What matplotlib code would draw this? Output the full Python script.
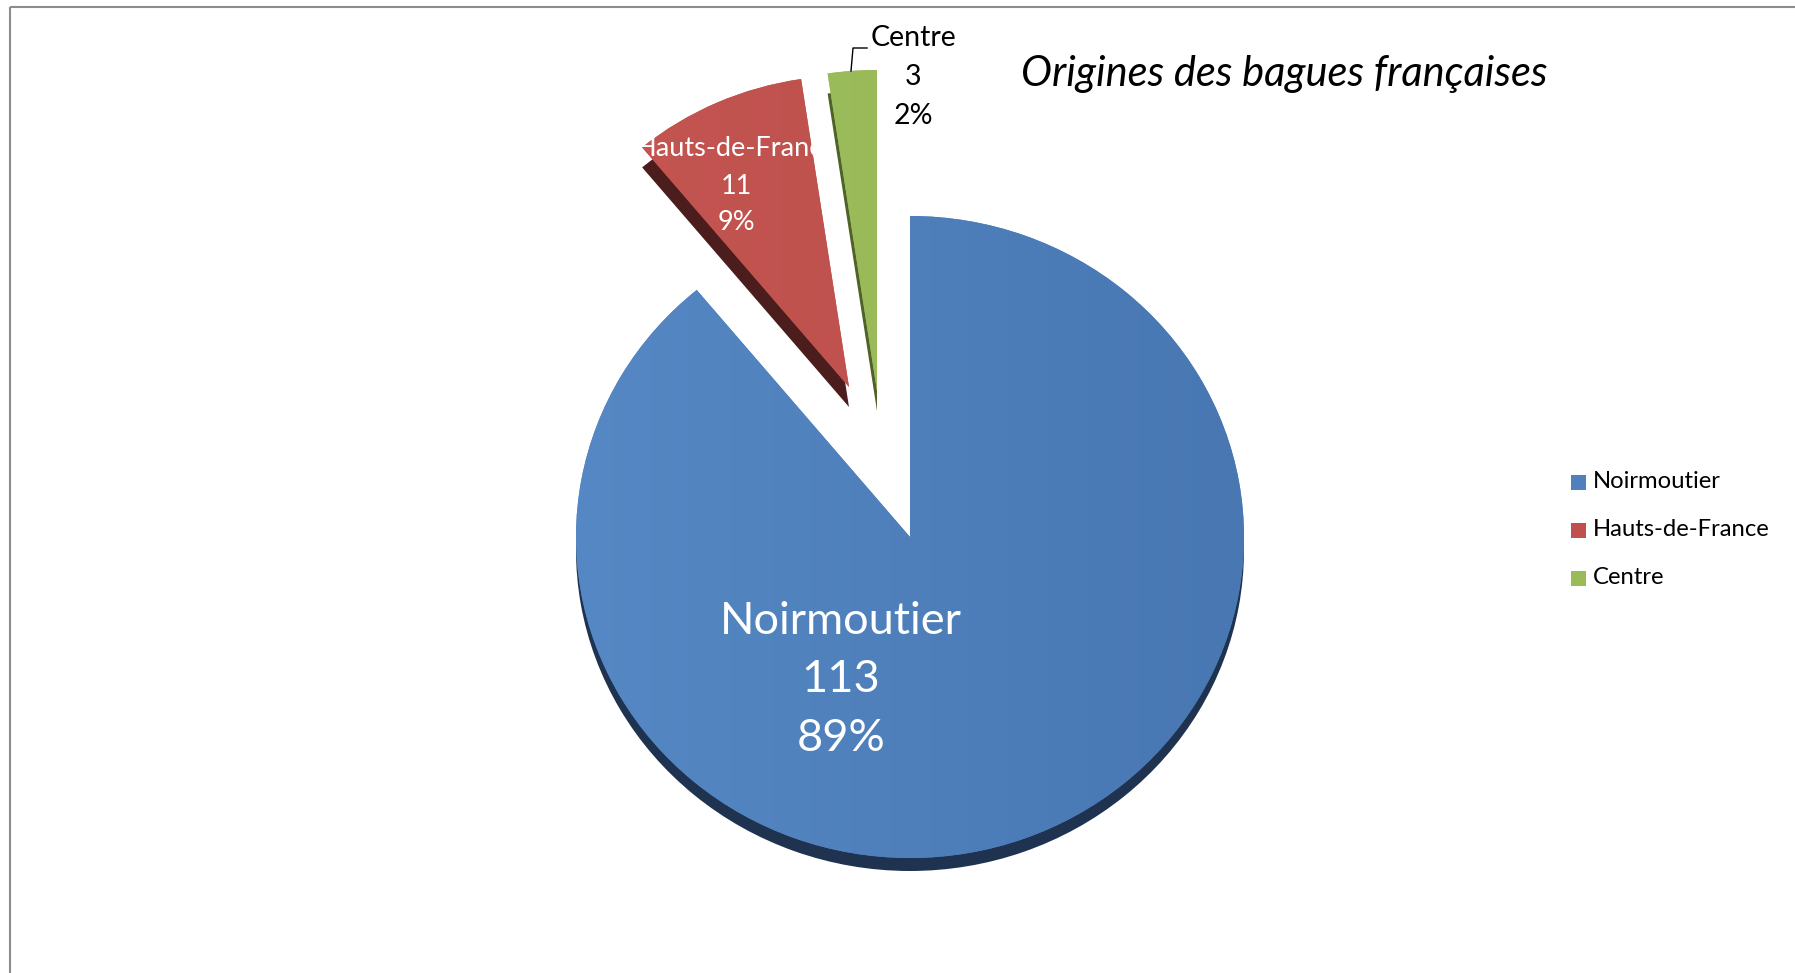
import numpy as np
import matplotlib.pyplot as plt
from matplotlib.patches import Wedge, Rectangle
from matplotlib.transforms import Affine2D
from matplotlib.colors import to_rgb

# data
regions = ['Noirmoutier', 'Hauts-de-France', 'Centre']
counts = [113, 11, 3]
title = 'Origines des bagues françaises'

# colours (top face light->dark, and side face)
light_colors = ['#5588c4', '#c65753', '#a0c160']
dark_colors = ['#4877b2', '#b94c49', '#94b454']
side_colors = ['#1f3350', '#4b1e1d', '#4f6228']
legend_colors = ['#4f81bd', '#c0504d', '#9bbb59']
label_colors = ['white', 'white', 'black']
label_sizes = [32.5, 19.5, 20.5]
label_spacing = [1.53, 1.6, 1.6]

plt.rcParams['font.family'] = ['Lato', 'DejaVu Sans']

W, H = 1795, 973
fig = plt.figure(figsize=(W / 100, H / 100), dpi=100)
ax = fig.add_axes([0, 0, 1, 1])

# pie geometry in pixels (slightly flattened, 3D look)
cx, cy = 910, 537
rx, ry = 334, 321
explode_px = [(0, 0), (-61, -150), (-33, -146)]
radius_scale = [1.0, 0.97, 1.0]
depth_px = [13, 20, 20]
label_pos = [(841, 680), (736, 186), (913, 77)]

total = sum(counts)
angles = 90 - 360 * np.cumsum([0] + counts) / total
pcts = [round(100 * c / total) for c in counts]

# side faces first
for i in range(len(counts)):
    ox, oy = explode_px[i]
    s = radius_scale[i]
    tr = Affine2D().scale(rx * s, -ry * s).translate(cx + ox, cy + oy + depth_px[i]) + ax.transData
    side = Wedge((0, 0), 1, angles[i + 1], angles[i], transform=tr,
                 facecolor=side_colors[i], edgecolor='none', zorder=1)
    ax.add_patch(side)

# top faces with a soft left-to-right shading
for i in range(len(counts)):
    ox, oy = explode_px[i]
    s = radius_scale[i]
    tr = Affine2D().scale(rx * s, -ry * s).translate(cx + ox, cy + oy) + ax.transData
    top = Wedge((0, 0), 1, angles[i + 1], angles[i], transform=tr,
                facecolor=legend_colors[i], edgecolor='none', zorder=2)
    ax.add_patch(top)
    c0 = np.array(to_rgb(light_colors[i]))
    c1 = np.array(to_rgb(dark_colors[i]))
    t = np.linspace(0, 1, 256)[None, :, None]
    grad = c0 + (c1 - c0) * t
    im = ax.imshow(grad, extent=(cx + ox - rx, cx + ox + rx, cy + oy + ry, cy + oy - ry),
                   aspect='auto', interpolation='bilinear', zorder=3)
    im.set_clip_path(top)

# data labels
for i, name in enumerate(regions):
    x, y = label_pos[i]
    ax.text(x, y, f'{name}\n{counts[i]}\n{pcts[i]}%', ha='center', va='center',
            fontsize=label_sizes[i], color=label_colors[i],
            linespacing=label_spacing[i], zorder=5)

# leader line for the small slice
ax.plot([851, 853, 867], [71, 48, 48], color='black', lw=1, zorder=5)

# title
ax.text(1021, 74, title, ha='left', va='center', fontsize=30, style='italic', zorder=5)

# legend
for i, name in enumerate(regions):
    y = 482 + 48 * i
    ax.add_patch(Rectangle((1571, y - 7.5), 15, 15, facecolor=legend_colors[i],
                           edgecolor='none', zorder=5))
    ax.text(1593, y, name, ha='left', va='center', fontsize=17.2, zorder=5)

# chart area border
ax.add_patch(Rectangle((10, 7), 2000, 2000, fill=False, edgecolor='#8c8c8c', lw=1.5, zorder=6))

ax.set_xlim(0, W)
ax.set_ylim(H, 0)
ax.axis('off')

fig.savefig('out.png', dpi=100, facecolor='white')
